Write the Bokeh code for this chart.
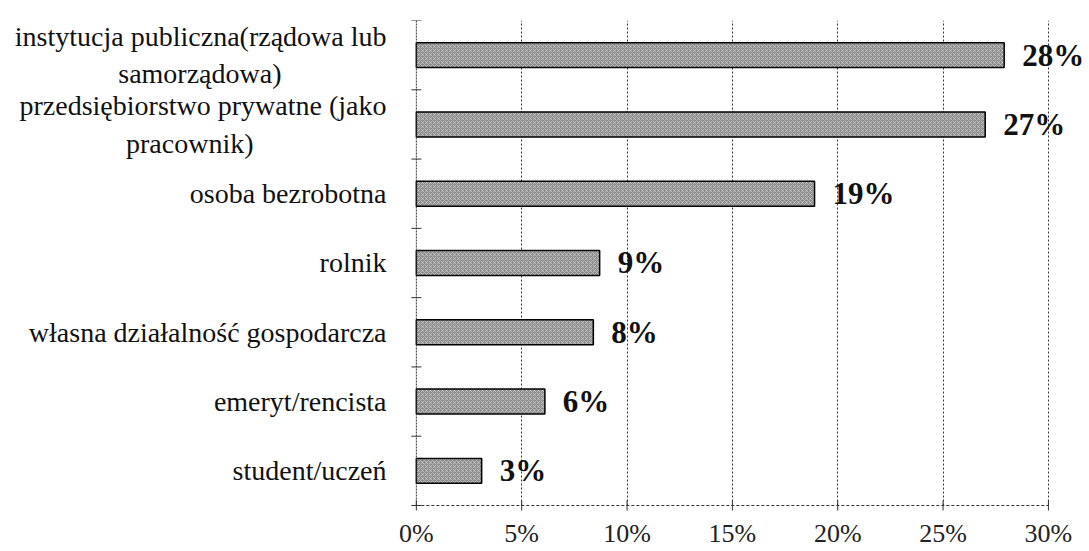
from bokeh.plotting import figure
from bokeh.models import Range1d, FixedTicker, ColumnDataSource, LabelSet, BoxAnnotation
from bokeh.core.properties import value
from bokeh.embed import file_html
from bokeh.resources import INLINE

NB = "\u00a0"
categories = [
    "instytucja publiczna(rządowa lub\nsamorządowa)" + NB * 15,
    "przedsiębiorstwo prywatne (jako\npracownik)" + NB * 19,
    "osoba bezrobotna",
    "rolnik",
    "własna działalność gospodarcza",
    "emeryt/rencista",
    "student/uczeń",
]
bar_values = [27.9, 27.0, 18.9, 8.7, 8.4, 6.1, 3.1]
value_labels = ["28%", "27%", "19%", "9%", "8%", "6%", "3%"]
x_ticks = [0, 5, 10, 15, 20, 25, 30]
x_tick_labels = ["0%", "5%", "10%", "15%", "20%", "25%", "30%"]

n = len(categories)
y_pos = [n - i for i in range(n)]              # top category first
y_edges = [k + 0.5 for k in range(n + 1)]       # category boundaries
y_base = y_edges[0]                             # where the value axis sits
x_base = x_ticks[0]                             # where the category axis sits

src = ColumnDataSource(dict(y=y_pos, val=bar_values, lab=value_labels))
tick_src = ColumnDataSource(dict(x=x_ticks, y=[y_base] * len(x_ticks), lab=x_tick_labels))
edge_src = ColumnDataSource(dict(x=[x_base] * len(y_edges), y=y_edges))

p = figure(
    width=1089, height=551,
    y_range=Range1d(-0.164, n + 0.5),
    x_range=Range1d(-0.8, 31.95),
    output_backend="svg", toolbar_location=None,
    min_border_left=399, min_border_right=0, min_border_top=20, min_border_bottom=0,
)
p.outline_line_color = None
p.background_fill_color = "white"
p.border_fill_color = "white"

p.hbar(y="y", right="val", left=x_base, height=0.36, source=src,
       fill_color="#8a8a8a", line_color="black", line_width=1.5,
       hatch_pattern="diagonal_cross", hatch_color="#ffffff", hatch_alpha=0.5,
       hatch_scale=4, hatch_weight=0.9)

labels = LabelSet(x="val", y="y", text="lab", source=src, x_offset=18,
                  text_baseline="middle", text_align="left",
                  text_font="Liberation Serif", text_font_size="31px",
                  text_font_style="bold", text_color="#111111")
p.add_layout(labels)

# value axis drawn along the bottom edge of the last category
p.xaxis.visible = False
p.segment(x0=x_ticks[0], x1=x_ticks[-1], y0=y_base, y1=y_base,
          line_color="#333333", line_dash="3 2", line_width=1)
p.scatter(x="x", y="y", source=tick_src, marker="dash", angle=1.5708,
          size=10, line_color="#333333", line_width=1)
p.text(x="x", y="y", text="lab", source=tick_src, y_offset=28,
       text_align="center", text_baseline="alphabetic",
       text_font=value("Liberation Serif"), text_font_size="26px",
       text_color="#222222")

# category axis line and boundary ticks at 0 %
p.segment(x0=x_base, x1=x_base, y0=y_edges[0], y1=y_edges[-1],
          line_color="#333333", line_dash="2 1", line_width=1)
p.scatter(x="x", y="y", source=edge_src, marker="dash", size=10,
          line_color="#333333", line_width=1)

# category names
p.yaxis.ticker = FixedTicker(ticks=y_pos)
p.yaxis.major_label_overrides = {y: c for y, c in zip(y_pos, categories)}
p.yaxis.major_label_text_font = "Liberation Serif"
p.yaxis.major_label_text_font_size = "28px"
p.yaxis.major_label_text_color = "#111111"
p.yaxis.major_label_standoff = 7
p.yaxis.axis_line_color = None
p.yaxis.major_tick_line_color = None
p.yaxis.minor_tick_line_color = None

p.xgrid.ticker = FixedTicker(ticks=x_ticks[1:])
p.xgrid.grid_line_color = "#333333"
p.xgrid.grid_line_dash = "2 2"
p.xgrid.grid_line_width = 1
try:
    p.xgrid.cross_bounds = (y_edges[0], y_edges[-1])
except Exception:
    p.add_layout(BoxAnnotation(top=y_base, fill_color="white", fill_alpha=1,
                               line_color=None, level="underlay"))
p.ygrid.grid_line_color = None

open("out.html", "w").write(file_html(p, INLINE))
